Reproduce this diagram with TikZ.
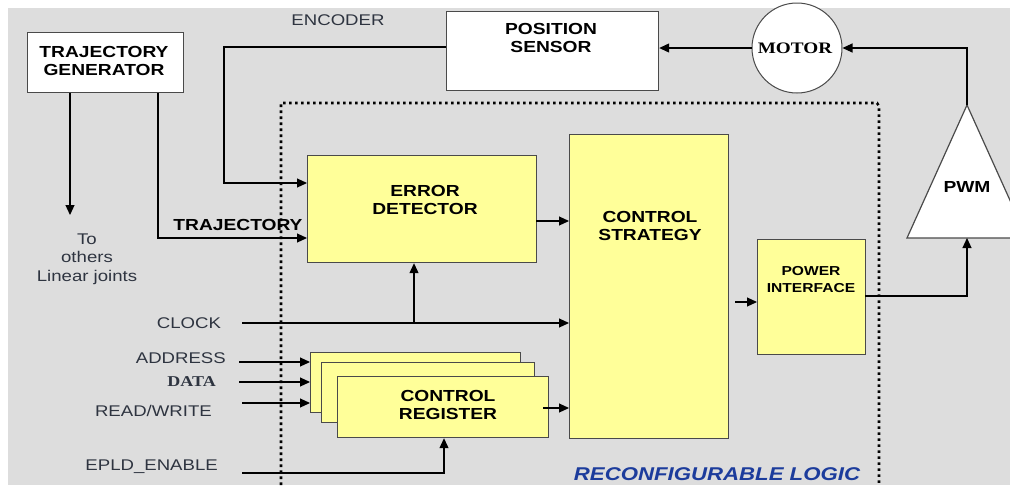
\documentclass[tikz,border=0pt]{standalone}
\usepackage{fontspec}
\setmainfont{Liberation Sans}[FakeStretch=1.2]
\newfontfamily\serifwide{Liberation Serif}[FakeStretch=1.2]
\usetikzlibrary{arrows.meta}
\definecolor{bggray}{HTML}{DDDDDD}
\definecolor{boxyellow}{HTML}{FFFF99}
\definecolor{boxline}{HTML}{4A4A4A}
\definecolor{labelcol}{HTML}{2E3440}
\definecolor{logicblue}{HTML}{1C3C9C}
\begin{document}
\begin{tikzpicture}[x=1pt,y=-1pt,
  box/.style={draw=boxline, line width=1.2pt, inner sep=0pt, anchor=north west},
  whitebox/.style={box, fill=white},
  yellowbox/.style={box, fill=boxyellow},
  lbl/.style={font=\fontsize{15.5}{18.5}\selectfont, text=labelcol, inner sep=0pt},
  blbl/.style={font=\fontsize{16}{18.5}\selectfont\bfseries, align=center, inner sep=0pt},
  wire/.style={line width=1.1pt, draw=black},
  arr/.style={wire, -{Triangle[length=10pt,width=9pt]}},
  fence/.style={line width=2.6pt, dash pattern=on 2.6pt off 3.4pt}
]
\useasboundingbox (0,0) rectangle (1010,485);
\fill[white] (0,0) rectangle (1010,485);
\fill[bggray] (8,8) rectangle (1010,485);

% reconfigurable logic boundary
\draw[fence] (281,485) -- (281,103) -- (877,103) -- (879,106) -- (879,485);

% blocks
\node[whitebox, minimum width=156pt, minimum height=60pt] (traj) at (27,32) {};
\node[whitebox, minimum width=212pt, minimum height=79pt] (possens) at (446,11) {};
\node[circle, draw=boxline, line width=1pt, fill=white, minimum size=90pt, inner sep=0pt] (motor) at (797,48) {};
\node[yellowbox, minimum width=229pt, minimum height=107pt] (errdet) at (307,155) {};
\node[yellowbox, minimum width=159pt, minimum height=304pt] (ctrlstrat) at (569,134) {};
\node[yellowbox, minimum width=108pt, minimum height=115pt] (power) at (757,239) {};
\node[yellowbox, minimum width=210pt, minimum height=60pt] (regback) at (310,352) {};
\node[yellowbox, minimum width=213pt, minimum height=60pt] (regmid) at (321,362) {};
\node[yellowbox, minimum width=211pt, minimum height=61pt] (regfront) at (337,376) {};

% PWM amplifier
\coordinate (pwmtop) at (967,105);
\coordinate (pwmbase) at (967,238);
\draw[draw=boxline, line width=1.2pt, fill=white] (pwmtop) -- (907,238) -- (1027,238) -- cycle;

% block texts
\node[blbl] (trajtxt) at (104,61) {TRAJECTORY\\GENERATOR};
\node[blbl] (postxt) at (551,38) {POSITION\\SENSOR};
\node[inner sep=0pt, font=\serifwide\bfseries\fontsize{16}{18}\selectfont] (motortxt) at (795,48) {MOTOR};
\node[blbl] (pwmtxt) at (967,187) {PWM};
\node[blbl] (errtxt) at (425,200) {ERROR\\DETECTOR};
\node[blbl] (cstxt) at (650,226) {CONTROL\\STRATEGY};
\node[blbl, font=\fontsize{13}{17}\selectfont\bfseries] (pwrtxt) at (811,280) {POWER\\INTERFACE};
\node[blbl] (regtxt) at (448,405) {CONTROL\\REGISTER};

% signal labels
\node[lbl] (enctxt) at (338,20) {ENCODER};
\node[blbl] (trajsig) at (238,225) {TRAJECTORY};
\node[lbl, align=center] (others) at (87,259) {To\\others\\Linear joints};
\node[lbl] (clocktxt) at (189,323) {CLOCK};
\node[lbl, anchor=east] (addrtxt) at (226,358) {ADDRESS};
\node[lbl, anchor=east, font=\serifwide\bfseries\fontsize{15}{17}\selectfont] (datatxt) at (216,382) {DATA};
\node[lbl, anchor=east] (rwtxt) at (212,411) {READ/WRITE};
\node[lbl, anchor=east] (epldtxt) at (218,467) {EPLD\_ENABLE};
\node[inner sep=0pt, text=logicblue, font=\fontsize{18.5}{20}\selectfont\bfseries\itshape] (logictxt) at (717,474) {RECONFIGURABLE LOGIC};

% trajectory generator outputs
\coordinate (tgdown) at (70,215);
\draw[arr] (traj.south -| tgdown) -- (tgdown);
\coordinate (trajx) at (158,238);
\draw[arr] (traj.south -| trajx) -- (trajx) -- (trajx -| errdet.west);

% encoder feedback
\coordinate (enctop) at (224,47);
\coordinate (encx) at (224,183);
\draw[arr] (enctop -| possens.west) -- (enctop) -- (encx) -- (encx -| errdet.west);

% motor loop
\draw[arr] (motor.west) -- (motor.west -| possens.east);
\draw[arr] (pwmtop) -- (pwmtop |- motor.east) -- (motor.east);
\coordinate (pwout) at (865,296);
\draw[arr] (pwout) -- (pwout -| pwmbase) -- (pwmbase);

% internal data path
\coordinate (edout) at (536,221);
\draw[arr] (edout) -- (edout -| ctrlstrat.west);
\coordinate (csout) at (735,302);
\draw[arr] (csout) -- (csout -| power.west);
\coordinate (regout) at (543,408);
\draw[arr] (regout) -- (regout -| ctrlstrat.west);

% clock distribution
\coordinate (clk0) at (242,323);
\coordinate (clkbr) at (414,323);
\draw[arr] (clk0) -- (clk0 -| ctrlstrat.west);
\draw[arr] (clkbr) -- (clkbr |- errdet.south);

% bus inputs
\coordinate (addr0) at (239,362);
\coordinate (data0) at (239,382);
\coordinate (rw0) at (242,403);
\draw[arr] (addr0) -- (addr0 -| regback.west);
\draw[arr] (data0) -- (data0 -| regback.west);
\draw[arr] (rw0) -- (rw0 -| regback.west);
\coordinate (epld0) at (242,473);
\coordinate (epldup) at (444,473);
\draw[arr] (epld0) -- (epldup) -- (epldup |- regfront.south);
\end{tikzpicture}
\end{document}
